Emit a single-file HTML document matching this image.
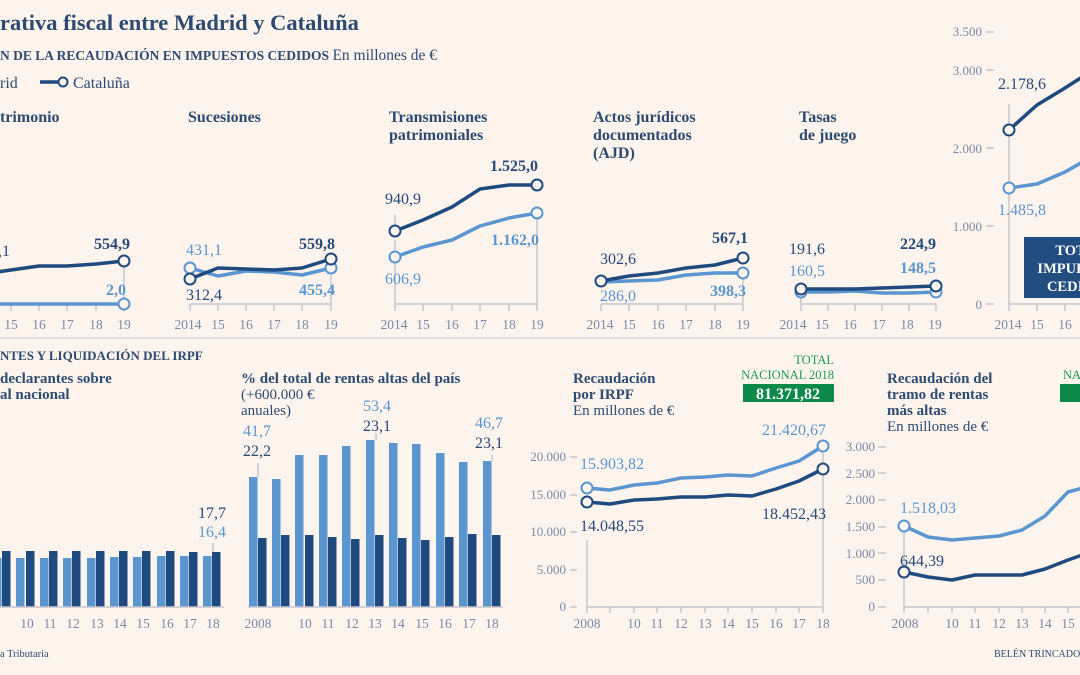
<!DOCTYPE html>
<html><head><meta charset="utf-8"><style>
html,body{margin:0;padding:0;background:#fdf4ed;}
svg{display:block;}
text{font-family:"Liberation Serif",serif;}
.t{fill:#2d4b72;font-weight:bold;font-size:16px;}
.ax{fill:#7c89a8;font-size:13.5px;text-anchor:middle;}
.yl{fill:#7c89a8;font-size:13px;text-anchor:end;}
.d{fill:#27497a;font-size:16px;}
.l{fill:#5b96d0;font-size:16px;}
.g{stroke:#c9c5cf;stroke-width:1.5;fill:none;}
.dl{stroke:#1f4a80;stroke-width:3.5;fill:none;stroke-linejoin:round;}
.ll{stroke:#5b96d0;stroke-width:3.5;fill:none;stroke-linejoin:round;}
.dc{fill:#fdf4ed;stroke:#1f4a80;stroke-width:2;}
.lc{fill:#fdf4ed;stroke:#5b96d0;stroke-width:2;}
.lb{fill:#5b96d0;} .db{fill:#1f4a80;}
.bt{fill:#2d4b72;font-weight:bold;font-size:15px;}
.br{fill:#2d4b72;font-size:15px;}
</style></head><body>
<svg width="1080" height="675" viewBox="0 0 1080 675">
<!-- header -->
<text x="0" y="30" style="font-size:22.5px;font-weight:bold;fill:#2d4b72">rativa fiscal entre Madrid y Cataluña</text>
<text x="0" y="60" style="font-size:13.5px;fill:#2d4b72"><tspan font-weight="bold">N DE LA RECAUDACIÓN EN IMPUESTOS CEDIDOS</tspan> <tspan font-size="15.5">En millones de €</tspan></text>
<text x="0" y="88" style="font-size:16px;fill:#2d4b72">rid</text>
<line x1="40" y1="82" x2="58" y2="82" class="dl"/><circle cx="63" cy="82" r="4.5" class="dc"/>
<text x="73" y="88" style="font-size:16px;fill:#2d4b72">Cataluña</text>

<!-- panel titles -->
<text x="0" y="122" class="t">trimonio</text>
<text x="188" y="122" class="t">Sucesiones</text>
<text x="389" y="122" class="t">Transmisiones</text><text x="389" y="140" class="t">patrimoniales</text>
<text x="593" y="122" class="t">Actos jurídicos</text><text x="593" y="140" class="t">documentados</text><text x="593" y="158" class="t">(AJD)</text>
<text x="799" y="122" class="t">Tasas</text><text x="799" y="140" class="t">de juego</text>

<!-- Patrimonio -->
<line x1="0" y1="304" x2="124" y2="304" class="g"/>
<g class="g"><path d="M11 304v7M39 304v7M67 304v7M96 304v7M124 304v7M124 261v43"/></g>
<g class="ax"><text x="11" y="329">15</text><text x="39" y="329">16</text><text x="67" y="329">17</text><text x="96" y="329">18</text><text x="124" y="329">19</text></g>
<polyline class="dl" points="-17,274 11,270 39,266 67,266 96,264 124,261"/>
<polyline class="ll" points="-17,304 124,304"/>
<circle cx="124" cy="261" r="5.5" class="dc"/><circle cx="124" cy="304" r="5.5" class="lc"/>
<text x="4" y="256" class="d" text-anchor="middle">,1</text>
<text x="112" y="249" class="d" font-weight="bold" text-anchor="middle">554,9</text>
<text x="116" y="295" class="l" font-weight="bold" text-anchor="middle">2,0</text>

<!-- Sucesiones -->
<line x1="190" y1="304" x2="331" y2="304" class="g"/>
<g class="g"><path d="M190 304v7M218 304v7M246 304v7M274 304v7M302 304v7M331 304v7M331 268v36"/></g>
<g class="ax"><text x="188" y="329">2014</text><text x="218" y="329">15</text><text x="246" y="329">16</text><text x="274" y="329">17</text><text x="302" y="329">18</text><text x="331" y="329">19</text></g>
<polyline class="ll" points="190,268 218,276 246,271 274,272 302,275 331,268"/>
<polyline class="dl" points="190,279 218,268 246,269 274,270 302,268 331,259"/>
<circle cx="190" cy="268" r="5.5" class="lc"/><circle cx="190" cy="279" r="5.5" class="dc"/>
<circle cx="331" cy="268" r="5.5" class="lc"/><circle cx="331" cy="259" r="5.5" class="dc"/>
<text x="204" y="255" class="l" text-anchor="middle">431,1</text>
<text x="204" y="300" class="d" text-anchor="middle">312,4</text>
<text x="317" y="249" class="d" font-weight="bold" text-anchor="middle">559,8</text>
<text x="317" y="295" class="l" font-weight="bold" text-anchor="middle">455,4</text>

<!-- Transmisiones -->
<line x1="395" y1="304" x2="537" y2="304" class="g"/>
<g class="g"><path d="M395 304v7M423 304v7M452 304v7M480 304v7M509 304v7M537 304v7M395 240v64M537 213v91M395 215v10"/></g>
<g class="ax"><text x="394" y="329">2014</text><text x="423" y="329">15</text><text x="452" y="329">16</text><text x="480" y="329">17</text><text x="509" y="329">18</text><text x="537" y="329">19</text></g>
<polyline class="ll" points="395,257 423,247 452,240 480,226 509,218 537,213"/>
<polyline class="dl" points="395,231 423,220 452,207 480,189 509,185 537,185"/>
<circle cx="395" cy="257" r="5.5" class="lc"/><circle cx="395" cy="231" r="5.5" class="dc"/>
<circle cx="537" cy="213" r="5.5" class="lc"/><circle cx="537" cy="185" r="5.5" class="dc"/>
<text x="403" y="204" class="d" text-anchor="middle">940,9</text>
<text x="403" y="284" class="l" text-anchor="middle">606,9</text>
<text x="514" y="171" class="d" font-weight="bold" text-anchor="middle">1.525,0</text>
<text x="515" y="245" class="l" font-weight="bold" text-anchor="middle">1.162,0</text>

<!-- AJD -->
<line x1="601" y1="304" x2="743" y2="304" class="g"/>
<g class="g"><path d="M601 304v7M629 304v7M658 304v7M686 304v7M715 304v7M743 304v7M743 273v31"/></g>
<g class="ax"><text x="600" y="329">2014</text><text x="629" y="329">15</text><text x="658" y="329">16</text><text x="686" y="329">17</text><text x="715" y="329">18</text><text x="743" y="329">19</text></g>
<polyline class="ll" points="601,282 629,281 658,280 686,275 715,273 743,273"/>
<polyline class="dl" points="601,281 629,276 658,273 686,268 715,265 743,258"/>
<circle cx="601" cy="281" r="5.5" class="dc"/><circle cx="743" cy="273" r="5.5" class="lc"/><circle cx="743" cy="258" r="5.5" class="dc"/>
<text x="618" y="264" class="d" text-anchor="middle">302,6</text>
<text x="618" y="301" class="l" text-anchor="middle">286,0</text>
<text x="730" y="243" class="d" font-weight="bold" text-anchor="middle">567,1</text>
<text x="728" y="296" class="l" font-weight="bold" text-anchor="middle">398,3</text>

<!-- Tasas -->
<line x1="801" y1="304" x2="936" y2="304" class="g"/>
<g class="g"><path d="M801 304v7M828 304v7M855 304v7M882 304v7M909 304v7M936 304v7M801 292v12"/></g>
<g class="ax"><text x="793" y="329">2014</text><text x="822" y="329">15</text><text x="850" y="329">16</text><text x="879" y="329">17</text><text x="907" y="329">18</text><text x="935" y="329">19</text></g>
<polyline class="ll" points="801,292 828,292 855,291 882,293 909,293 936,292"/>
<polyline class="dl" points="801,289 828,289 855,289 882,288 909,287 936,286"/>
<circle cx="801" cy="292" r="5.5" class="lc"/><circle cx="801" cy="289" r="5.5" class="dc"/>
<circle cx="936" cy="292" r="5.5" class="lc"/><circle cx="936" cy="286" r="5.5" class="dc"/>
<text x="807" y="254" class="d" text-anchor="middle">191,6</text>
<text x="807" y="276" class="l" text-anchor="middle">160,5</text>
<text x="918" y="249" class="d" font-weight="bold" text-anchor="middle">224,9</text>
<text x="918" y="273" class="l" font-weight="bold" text-anchor="middle">148,5</text>

<!-- Total -->
<g class="yl"><text x="982" y="36">3.500</text><text x="982" y="75">3.000</text><text x="982" y="153">2.000</text><text x="982" y="231">1.000</text><text x="982" y="309">0</text></g>
<g class="g"><path d="M986 32h8M986 70h8M986 148h8M986 226h8M986 304h8M1009 304h80M1009 304v7M1037 304v7M1065 304v7M1009 104v200"/></g>
<g class="ax"><text x="1008" y="329">2014</text><text x="1037" y="329">15</text><text x="1065" y="329">16</text></g>
<polyline class="ll" points="1009,188 1037,184 1065,172 1093,156 1121,135"/>
<polyline class="dl" points="1009,130 1037,105 1065,88 1093,70 1121,50"/>
<circle cx="1009" cy="188" r="5.5" class="lc"/><circle cx="1009" cy="130" r="5.5" class="dc"/>
<text x="1022" y="89" class="d" text-anchor="middle">2.178,6</text>
<text x="1022" y="215" class="l" text-anchor="middle">1.485,8</text>
<rect x="1024" y="237" width="112" height="61" fill="#214d80"/>
<g style="fill:#fff;font-weight:bold;font-size:14.5px" text-anchor="middle"><text x="1080" y="255">TOTAL</text><text x="1080" y="273">IMPUESTOS</text><text x="1080" y="291">CEDIDOS</text></g>

<line x1="0" y1="338" x2="1080" y2="338" stroke="#e6e1df" stroke-width="2"/>

<!-- bottom header -->
<text x="0" y="360" style="font-size:13px;font-weight:bold;fill:#2d4b72">NTES Y LIQUIDACIÓN DEL IRPF</text>
<text x="0" y="383" class="bt">declarantes sobre</text><text x="0" y="399" class="bt">al nacional</text>

<!-- bars left -->
<g>
<rect x="-7" y="558" width="8.5" height="49" class="lb"/><rect x="2" y="551" width="8.5" height="56" class="db"/>
<rect x="16" y="558" width="8.5" height="49" class="lb"/><rect x="26" y="551" width="8.5" height="56" class="db"/>
<rect x="40" y="558" width="8.5" height="49" class="lb"/><rect x="49" y="551" width="8.5" height="56" class="db"/>
<rect x="63" y="558" width="8.5" height="49" class="lb"/><rect x="72" y="551" width="8.5" height="56" class="db"/>
<rect x="87" y="558" width="8.5" height="49" class="lb"/><rect x="96" y="551" width="8.5" height="56" class="db"/>
<rect x="110" y="557" width="8.5" height="50" class="lb"/><rect x="119" y="551" width="8.5" height="56" class="db"/>
<rect x="133" y="557" width="8.5" height="50" class="lb"/><rect x="142" y="551" width="8.5" height="56" class="db"/>
<rect x="157" y="556" width="8.5" height="51" class="lb"/><rect x="166" y="551" width="8.5" height="56" class="db"/>
<rect x="180" y="556" width="8.5" height="51" class="lb"/><rect x="189" y="552" width="8.5" height="55" class="db"/>
<rect x="203" y="556" width="8.5" height="51" class="lb"/><rect x="212" y="552" width="8.5" height="55" class="db"/>
</g>
<line x1="0" y1="607" x2="224" y2="607" class="g"/>
<line x1="213" y1="543" x2="213" y2="552" class="g"/>
<g class="ax"><text x="27" y="628">10</text><text x="50" y="628">11</text><text x="73" y="628">12</text><text x="97" y="628">13</text><text x="120" y="628">14</text><text x="143" y="628">15</text><text x="167" y="628">16</text><text x="190" y="628">17</text><text x="213" y="628">18</text></g>
<text x="212" y="518" class="d" text-anchor="middle">17,7</text>
<text x="212" y="537" class="l" text-anchor="middle">16,4</text>

<!-- rentas altas -->
<text x="241" y="383" class="bt">% del total de rentas altas del país</text>
<text x="241" y="399" class="br">(+600.000 €</text>
<text x="241" y="415" class="br">anuales)</text>
<g>
<rect x="249" y="477" width="8.5" height="130" class="lb"/><rect x="258" y="538" width="8.5" height="69" class="db"/>
<rect x="272" y="479" width="8.5" height="128" class="lb"/><rect x="281" y="535" width="8.5" height="72" class="db"/>
<rect x="295" y="455" width="8.5" height="152" class="lb"/><rect x="305" y="535" width="8.5" height="72" class="db"/>
<rect x="319" y="455" width="8.5" height="152" class="lb"/><rect x="328" y="537" width="8.5" height="70" class="db"/>
<rect x="342" y="446" width="8.5" height="161" class="lb"/><rect x="351" y="539" width="8.5" height="68" class="db"/>
<rect x="366" y="440" width="8.5" height="167" class="lb"/><rect x="375" y="535" width="8.5" height="72" class="db"/>
<rect x="389" y="443" width="8.5" height="164" class="lb"/><rect x="398" y="538" width="8.5" height="69" class="db"/>
<rect x="412" y="444" width="8.5" height="163" class="lb"/><rect x="421" y="540" width="8.5" height="67" class="db"/>
<rect x="436" y="453" width="8.5" height="154" class="lb"/><rect x="445" y="537" width="8.5" height="70" class="db"/>
<rect x="459" y="462" width="8.5" height="145" class="lb"/><rect x="468" y="534" width="8.5" height="73" class="db"/>
<rect x="483" y="461" width="8.5" height="146" class="lb"/><rect x="492" y="535" width="8.5" height="72" class="db"/>
</g>
<line x1="248" y1="607" x2="503" y2="607" class="g"/>
<g class="g"><path d="M258 463v14M376 433v7M492 455v6"/></g>
<g class="ax"><text x="258" y="628">2008</text><text x="305" y="628">10</text><text x="328" y="628">11</text><text x="352" y="628">12</text><text x="375" y="628">13</text><text x="398" y="628">14</text><text x="422" y="628">15</text><text x="445" y="628">16</text><text x="469" y="628">17</text><text x="492" y="628">18</text></g>
<text x="257" y="436" class="l" text-anchor="middle">41,7</text>
<text x="257" y="456" class="d" text-anchor="middle">22,2</text>
<text x="377" y="411" class="l" text-anchor="middle">53,4</text>
<text x="377" y="431" class="d" text-anchor="middle">23,1</text>
<text x="489" y="428" class="l" text-anchor="middle">46,7</text>
<text x="489" y="448" class="d" text-anchor="middle">23,1</text>

<!-- IRPF -->
<text x="573" y="383" class="bt">Recaudación</text>
<text x="573" y="399" class="bt">por IRPF</text>
<text x="573" y="415" class="br">En millones de €</text>
<g style="fill:#1f9a55;font-size:12.5px" text-anchor="end"><text x="834" y="364">TOTAL</text><text x="834" y="379">NACIONAL 2018</text></g>
<rect x="743" y="384" width="91" height="18" fill="#0d8a4a"/>
<text x="788" y="399" text-anchor="middle" style="fill:#fff;font-weight:bold;font-size:16px">81.371,82</text>
<g class="yl"><text x="566" y="461">20.000</text><text x="566" y="499">15.000</text><text x="566" y="536">10.000</text><text x="566" y="574">5.000</text><text x="566" y="611">0</text></g>
<g class="g"><path d="M570 457h7M570 495h7M570 532h7M570 570h7M570 607h7M587 607h236M587 540v73M823 446v167M610 607v6M634 607v6M657 607v6M681 607v6M705 607v6M728 607v6M752 607v6M776 607v6M799 607v6"/></g>
<g class="ax"><text x="587" y="628">2008</text><text x="634" y="628">10</text><text x="657" y="628">11</text><text x="681" y="628">12</text><text x="705" y="628">13</text><text x="728" y="628">14</text><text x="752" y="628">15</text><text x="776" y="628">16</text><text x="799" y="628">17</text><text x="823" y="628">18</text></g>
<polyline class="ll" points="587,488 610,490 634,485 657,483 681,478 705,477 728,475 752,476 776,468 799,461 823,446"/>
<polyline class="dl" points="587,502 610,504 634,500 657,499 681,497 705,497 728,495 752,496 776,489 799,481 823,469"/>
<circle cx="587" cy="488" r="5.5" class="lc"/><circle cx="587" cy="502" r="5.5" class="dc"/>
<circle cx="823" cy="446" r="5.5" class="lc"/><circle cx="823" cy="469" r="5.5" class="dc"/>
<text x="580" y="469" class="l" font-size="17.5">15.903,82</text>
<text x="580" y="531" class="d" font-size="17.5">14.048,55</text>
<text x="826" y="435" class="l" font-size="17.5" text-anchor="end">21.420,67</text>
<text x="826" y="519" class="d" font-size="17.5" text-anchor="end">18.452,43</text>

<!-- tramo rentas altas -->
<text x="887" y="383" class="bt">Recaudación del</text>
<text x="887" y="399" class="bt">tramo de rentas</text>
<text x="887" y="415" class="bt">más altas</text>
<text x="887" y="431" class="br">En millones de €</text>
<text x="1063" y="379" style="fill:#1f9a55;font-size:12.5px">NACIONAL 2018</text>
<rect x="1060" y="384" width="40" height="18" fill="#0d8a4a"/>
<g class="yl"><text x="875" y="451">3.000</text><text x="875" y="478">2.500</text><text x="875" y="504">2.000</text><text x="875" y="531">1.500</text><text x="875" y="558">1.000</text><text x="875" y="584">500</text><text x="875" y="611">0</text></g>
<g class="g"><path d="M878 447h8M878 473h8M878 500h8M878 527h8M878 553h8M878 580h8M878 607h8M904 607h180M904 527v86M928 607v6M952 607v6M975 607v6M999 607v6M1022 607v6M1045 607v6M1068 607v6"/></g>
<g class="ax"><text x="905" y="628">2008</text><text x="952" y="628">10</text><text x="975" y="628">11</text><text x="999" y="628">12</text><text x="1022" y="628">13</text><text x="1045" y="628">14</text><text x="1068" y="628">15</text></g>
<polyline class="ll" points="904,526 928,537 952,540 975,538 999,536 1022,530 1045,516 1068,492 1091,486"/>
<polyline class="dl" points="904,572 928,577 952,580 975,575 999,575 1022,575 1045,569 1068,560 1091,552"/>
<circle cx="904" cy="526" r="5.5" class="lc"/><circle cx="904" cy="572" r="5.5" class="dc"/>
<text x="900" y="513" class="l" font-size="17.5">1.518,03</text>
<text x="900" y="566" class="d" font-size="17.5">644,39</text>

<text x="0" y="657" style="font-size:10.5px;fill:#2d4b72">a Tributaria</text>
<text x="994" y="657" style="font-size:10px;fill:#2d4b72">BELÉN TRINCADO</text>
</svg>
</body></html>
